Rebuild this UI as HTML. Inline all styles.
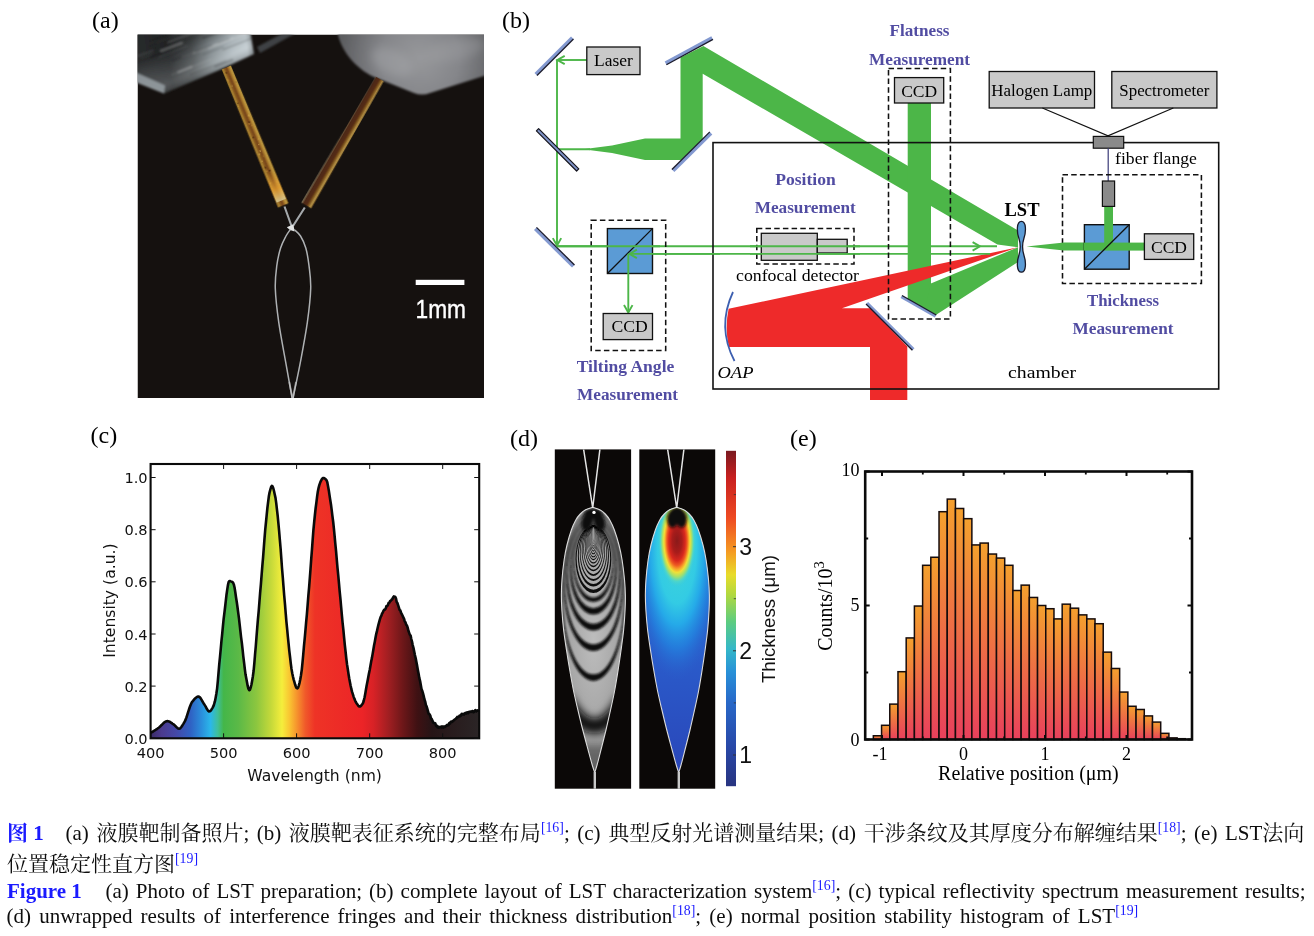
<!DOCTYPE html>
<html lang="zh"><head><meta charset="utf-8"><title>Figure 1</title>
<style>
html,body{margin:0;padding:0;background:#fff;}
body{width:1314px;height:936px;overflow:hidden;position:relative;}
svg{position:absolute;left:0;top:0;display:block;}
.ser{font-family:"Liberation Serif","Noto Serif CJK SC",serif;}
.sans{font-family:"Liberation Sans","Noto Sans CJK SC",sans-serif;}
.dv{font-family:"DejaVu Sans","Liberation Sans",sans-serif;}
.pb{font-family:"Liberation Serif",serif;font-weight:bold;fill:#514ca2;}
</style></head><body>
<svg width="1314" height="936" viewBox="0 0 1314 936">
<!-- part_a -->
<text x="92" y="28" font-size="24" class="ser">(a)</text>
<defs>
<clipPath id="clipA"><rect x="137.5" y="34.5" width="346.5" height="363.5"/></clipPath>
<clipPath id="clipBlkL"><polygon points="130.0,30.0 250.0,30.0 254.0,54.0 217.0,71.0 164.0,93.5 130.0,80.0"/></clipPath>
<linearGradient id="gBlkL" gradientUnits="userSpaceOnUse" x1="140" y1="60" x2="255" y2="45">
<stop offset="0" stop-color="#4a4d4f"/><stop offset="0.25" stop-color="#3c3f41"/><stop offset="0.45" stop-color="#5b6062"/><stop offset="0.62" stop-color="#8e979b"/><stop offset="0.8" stop-color="#b4bec3"/><stop offset="0.93" stop-color="#c2ccd1"/><stop offset="1" stop-color="#7f878b"/></linearGradient>
<linearGradient id="gBlkL2" gradientUnits="userSpaceOnUse" x1="200" y1="34" x2="217" y2="72">
<stop offset="0" stop-color="#000" stop-opacity="0.45"/><stop offset="0.35" stop-color="#000" stop-opacity="0.1"/><stop offset="0.75" stop-color="#fff" stop-opacity="0.1"/><stop offset="1" stop-color="#000" stop-opacity="0.25"/></linearGradient>
<radialGradient id="gBlkR" gradientUnits="userSpaceOnUse" cx="420" cy="58" r="80">
<stop offset="0" stop-color="#97989b"/><stop offset="0.5" stop-color="#85868a"/><stop offset="1" stop-color="#5c5d60"/></radialGradient>
<linearGradient id="gNdL" gradientUnits="objectBoundingBox" x1="0" y1="0" x2="1" y2="0">
<stop offset="0" stop-color="#5a3a12"/><stop offset="0.16" stop-color="#b08a34"/><stop offset="0.32" stop-color="#8a5a1e"/><stop offset="0.5" stop-color="#74421a"/><stop offset="0.68" stop-color="#a8782a"/><stop offset="0.85" stop-color="#c4a044"/><stop offset="1" stop-color="#54360e"/></linearGradient>
<linearGradient id="gNdR" gradientUnits="objectBoundingBox" x1="0" y1="0" x2="1" y2="0">
<stop offset="0" stop-color="#8f8468"/><stop offset="0.18" stop-color="#4c2812"/><stop offset="0.5" stop-color="#552c12"/><stop offset="0.7" stop-color="#8a6226"/><stop offset="0.86" stop-color="#bc9a4c"/><stop offset="1" stop-color="#5a3c14"/></linearGradient>
<linearGradient id="gGlow" gradientUnits="objectBoundingBox" x1="0" y1="0" x2="0" y2="1">
<stop offset="0" stop-color="#e09a30" stop-opacity="0"/><stop offset="0.6" stop-color="#e8a030" stop-opacity="0.75"/><stop offset="1" stop-color="#d8c890" stop-opacity="0.9"/></linearGradient>
<filter id="blur1"><feGaussianBlur stdDeviation="0.8"/></filter>
<filter id="blur2" x="-0.5" y="-0.5" width="2" height="2"><feGaussianBlur stdDeviation="4"/></filter>
<filter id="blur05"><feGaussianBlur stdDeviation="0.5"/></filter>
</defs>
<g clip-path="url(#clipA)">
<rect x="137.5" y="34.5" width="346.5" height="363.5" fill="#15110f"/>
<g filter="url(#blur1)">
<polygon points="130.0,30.0 250.0,30.0 254.0,54.0 217.0,71.0 164.0,93.5 130.0,80.0" fill="url(#gBlkL)"/>
<polygon points="130.0,30.0 250.0,30.0 254.0,54.0 217.0,71.0 164.0,93.5 130.0,80.0" fill="url(#gBlkL2)"/>
<g clip-path="url(#clipBlkL)">
<line x1="167.4" y1="42.6" x2="198.5" y2="30.6" stroke="#fff" stroke-opacity="0.19" stroke-width="1.3"/>
<line x1="140.8" y1="58.3" x2="153.1" y2="53.6" stroke="#fff" stroke-opacity="0.09" stroke-width="0.9"/>
<line x1="177.5" y1="72.4" x2="192.4" y2="66.6" stroke="#fff" stroke-opacity="0.21" stroke-width="2.1"/>
<line x1="192.7" y1="53.5" x2="233.8" y2="37.5" stroke="#fff" stroke-opacity="0.25" stroke-width="1.2"/>
<line x1="149.4" y1="41.2" x2="170.1" y2="33.2" stroke="#000" stroke-opacity="0.12" stroke-width="1.6"/>
<line x1="198.9" y1="52.4" x2="226.9" y2="41.6" stroke="#fff" stroke-opacity="0.09" stroke-width="1.1"/>
<line x1="203.0" y1="54.8" x2="223.8" y2="46.8" stroke="#000" stroke-opacity="0.17" stroke-width="1.2"/>
<line x1="214.4" y1="66.8" x2="233.1" y2="59.5" stroke="#000" stroke-opacity="0.19" stroke-width="2.0"/>
<line x1="207.9" y1="48.7" x2="249.2" y2="32.7" stroke="#fff" stroke-opacity="0.16" stroke-width="1.9"/>
<line x1="150.2" y1="57.5" x2="162.6" y2="52.7" stroke="#000" stroke-opacity="0.23" stroke-width="1.6"/>
<line x1="222.5" y1="49.8" x2="255.0" y2="37.2" stroke="#000" stroke-opacity="0.20" stroke-width="1.4"/>
<line x1="219.0" y1="77.6" x2="244.7" y2="67.6" stroke="#000" stroke-opacity="0.09" stroke-width="1.8"/>
<line x1="199.7" y1="79.7" x2="236.1" y2="65.6" stroke="#fff" stroke-opacity="0.16" stroke-width="1.7"/>
<line x1="137.3" y1="56.3" x2="153.6" y2="50.0" stroke="#fff" stroke-opacity="0.09" stroke-width="1.9"/>
<line x1="147.9" y1="46.9" x2="171.1" y2="37.9" stroke="#000" stroke-opacity="0.10" stroke-width="1.4"/>
<line x1="189.9" y1="74.9" x2="226.2" y2="60.8" stroke="#000" stroke-opacity="0.14" stroke-width="1.4"/>
<line x1="170.9" y1="74.9" x2="211.4" y2="59.2" stroke="#fff" stroke-opacity="0.12" stroke-width="1.1"/>
<line x1="158.3" y1="57.3" x2="187.6" y2="46.0" stroke="#fff" stroke-opacity="0.08" stroke-width="1.4"/>
<line x1="171.9" y1="60.9" x2="212.3" y2="45.3" stroke="#000" stroke-opacity="0.18" stroke-width="1.7"/>
<line x1="202.6" y1="38.4" x2="241.4" y2="23.4" stroke="#000" stroke-opacity="0.25" stroke-width="1.9"/>
<line x1="174.2" y1="53.6" x2="188.6" y2="48.0" stroke="#000" stroke-opacity="0.09" stroke-width="0.9"/>
<line x1="155.9" y1="43.1" x2="177.5" y2="34.8" stroke="#fff" stroke-opacity="0.08" stroke-width="1.0"/>
<line x1="145.1" y1="52.0" x2="157.1" y2="47.4" stroke="#000" stroke-opacity="0.20" stroke-width="1.0"/>
<line x1="160.2" y1="51.3" x2="182.6" y2="42.6" stroke="#fff" stroke-opacity="0.25" stroke-width="2.2"/>
<line x1="181.6" y1="57.3" x2="195.4" y2="51.9" stroke="#fff" stroke-opacity="0.15" stroke-width="1.2"/>
<line x1="217.9" y1="43.1" x2="229.8" y2="38.5" stroke="#000" stroke-opacity="0.19" stroke-width="1.0"/>
</g>
<polygon points="130.0,70.0 165.0,85.5 164.0,93.5 130.0,80.0" fill="#98a0a4" opacity="0.85"/>
<polygon points="257.0,47.0 283.0,33.0 296.0,33.0 260.0,53.0" fill="#4e5355" opacity="0.75"/>
<path d="M337 30 C340 50 355 68 374 77 L414 93 Q422 96 430 93 L490 74 L490 30Z" fill="url(#gBlkR)"/>
<ellipse cx="392" cy="62" rx="22" ry="12" fill="#a9aaad" opacity="0.4" transform="rotate(25 392 62)" filter="url(#blur2)"/>
<ellipse cx="455" cy="50" rx="30" ry="10" fill="#a2a3a6" opacity="0.35" transform="rotate(-12 455 50)" filter="url(#blur2)"/>
</g>
<g transform="translate(226.3 67.5) rotate(-22.44)" filter="url(#blur05)"><polygon points="-5.0,0 5.0,0 6.0,149.3 -6.0,149.3" fill="url(#gNdL)"/><circle cx="0.4" cy="59.3" r="1.1" fill="#3a1a08" opacity="0.58"/><circle cx="-2.2" cy="107.6" r="1.0" fill="#3a1a08" opacity="0.65"/><circle cx="-2.8" cy="100.2" r="0.7" fill="#e8c060" opacity="0.62"/><circle cx="0.9" cy="111.8" r="0.9" fill="#3a1a08" opacity="0.79"/><circle cx="0.8" cy="83.5" r="0.6" fill="#e8c060" opacity="0.73"/><circle cx="-3.3" cy="12.6" r="1.0" fill="#d8a040" opacity="0.41"/><circle cx="-0.4" cy="60.7" r="1.0" fill="#d8a040" opacity="0.49"/><circle cx="-3.5" cy="40.3" r="0.6" fill="#d8a040" opacity="0.51"/><circle cx="3.5" cy="124.7" r="1.0" fill="#d8a040" opacity="0.50"/><circle cx="0.1" cy="96.0" r="0.5" fill="#d8a040" opacity="0.71"/><circle cx="2.4" cy="53.0" r="0.7" fill="#e8c060" opacity="0.74"/><circle cx="-2.0" cy="5.1" r="1.0" fill="#3a1a08" opacity="0.55"/><circle cx="-0.6" cy="90.1" r="0.8" fill="#e8c060" opacity="0.71"/><circle cx="-2.9" cy="37.4" r="0.7" fill="#3a1a08" opacity="0.70"/><circle cx="-1.8" cy="19.2" r="0.6" fill="#e8c060" opacity="0.59"/><circle cx="1.3" cy="63.4" r="0.6" fill="#d8a040" opacity="0.48"/><circle cx="-2.6" cy="92.8" r="0.9" fill="#e8c060" opacity="0.56"/><circle cx="-3.5" cy="123.8" r="1.0" fill="#d8a040" opacity="0.52"/><circle cx="-2.0" cy="111.2" r="0.7" fill="#d8a040" opacity="0.66"/><circle cx="3.4" cy="17.0" r="0.6" fill="#3a1a08" opacity="0.40"/><circle cx="2.3" cy="78.2" r="0.7" fill="#e8c060" opacity="0.44"/><circle cx="-1.8" cy="74.9" r="0.9" fill="#3a1a08" opacity="0.65"/><rect x="-5" y="112" width="10" height="32" fill="url(#gGlow)"/></g>
<g transform="translate(379.7 79.0) rotate(30.06)" filter="url(#blur05)"><polygon points="-4.5,0 4.5,0 5.8,146.2 -5.8,146.2" fill="url(#gNdR)"/></g>
<path d="M284.5 206.5 L291.5 226 M304.8 207.5 L293 226" stroke="#a4a8ab" stroke-width="2.1" fill="none"/>
<path d="M286.8 227.3 L293.4 224.2 L294.6 231.5 L290 230Z" fill="#e2e4e4"/>
<path d="M290.30 229.50 C289.58 230.58 287.62 232.92 286.00 236.00 C284.38 239.08 282.13 243.05 280.60 248.00 C279.07 252.95 277.68 258.95 276.80 265.70 C275.92 272.45 274.97 279.00 275.30 288.50 C275.63 298.00 277.08 310.52 278.80 322.70 C280.52 334.88 283.52 349.80 285.60 361.60 C287.68 373.40 290.17 387.10 291.30 393.50 C292.43 399.90 292.22 398.92 292.40 400.00" stroke="#aeb1b3" stroke-width="1.5" fill="none"/>
<path d="M294.20 229.50 C295.25 230.58 298.57 232.92 300.50 236.00 C302.43 239.08 304.38 243.05 305.80 248.00 C307.22 252.95 308.18 258.95 309.00 265.70 C309.82 272.45 310.98 279.00 310.70 288.50 C310.42 298.00 309.00 310.52 307.30 322.70 C305.60 334.88 302.72 349.80 300.50 361.60 C298.28 373.40 295.27 387.10 294.00 393.50 C292.73 399.90 293.08 398.92 292.90 400.00" stroke="#aeb1b3" stroke-width="1.5" fill="none"/>
<path d="M289.3 382 L292.6 399 L296 382" stroke="#c8c8c8" stroke-width="1.8" fill="none" opacity="0.6"/>
<rect x="415.7" y="279.8" width="48.7" height="5.2" fill="#fff"/>
<text x="415.5" y="318" font-size="25" fill="#fff" stroke="#fff" stroke-width="0.35" font-family="'Liberation Sans',sans-serif" textLength="50.5" lengthAdjust="spacingAndGlyphs">1mm</text>
</g>
<!-- part_b -->
<text x="502.0" y="28.0" font-size="24" class="ser" text-anchor="start" >(b)</text>
<polygon points="583.0,149.3 612.0,145.6 645.0,138.6 680.5,138.6 680.5,57.5 703.4,46.0 1018.0,230.5 1018.0,247.3 997.4,244.6 702.7,73.7 702.7,139.0 681.2,160.0 645.0,160.0 612.0,153.0" fill="#4cb648"/>
<line x1="556.5" y1="149.3" x2="590" y2="149.3" stroke="#4cb648" stroke-width="1.9"/>
<polygon points="907.7,103.0 931.0,103.0 931.0,312.3 907.7,299.0" fill="#4cb648"/>
<polygon points="930.8,283.4 1000.0,254.8 1018.0,247.3 1018.0,262.0 936.2,314.8 925.0,309.0" fill="#4cb648"/>
<path d="M728.6 308.8 L1018 247.2 L842 308.2 L870.5 308.2 L907.3 346.6 L907.3 400 L870 400 L870 347 L728.8 347 Q724.6 328 728.6 308.8Z" fill="#ee2a2a"/>
<line x1="556.5" y1="60" x2="586.8" y2="60" stroke="#4cb648" stroke-width="1.9"/>
<polyline points="564.7,55.8 557.3,60.0 564.7,64.2" fill="none" stroke="#4cb648" stroke-width="1.9"/>
<line x1="557" y1="60" x2="557" y2="245" stroke="#4cb648" stroke-width="1.9"/>
<polyline points="552.8,238.1 557.0,245.5 561.2,238.1" fill="none" stroke="#4cb648" stroke-width="1.9"/>
<line x1="556.5" y1="246.3" x2="997" y2="246.3" stroke="#4cb648" stroke-width="1.9"/>
<polyline points="972.6,250.6 980.0,246.3 972.6,242.1" fill="none" stroke="#4cb648" stroke-width="1.9"/>
<line x1="632" y1="253.9" x2="990" y2="253.9" stroke="#4cb648" stroke-width="1.9"/>
<rect x="713" y="142.6" width="505.7" height="246.4" fill="none" stroke="#111" stroke-width="1.6"/>
<polygon points="537.0,75.5 573.5,39.0 571.0,36.5 534.5,73.0" fill="#8399d0"/><line x1="537.0" y1="75.5" x2="573.5" y2="39.0" stroke="#1b1b2b" stroke-width="1.3"/>
<polygon points="538.6,128.6 578.8,168.8 576.6,171.0 536.4,130.8" fill="#7f93c6" stroke="#14141e" stroke-width="1.2" stroke-linejoin="round"/>
<polygon points="536.5,227.4 574.5,265.0 572.0,267.6 534.0,230.0" fill="#8399d0"/><line x1="536.5" y1="227.4" x2="574.5" y2="265.0" stroke="#1b1b2b" stroke-width="1.3"/>
<polygon points="666.4,64.8 713.0,39.4 711.3,36.2 664.7,61.6" fill="#8399d0"/><line x1="666.4" y1="64.8" x2="713.0" y2="39.4" stroke="#1b1b2b" stroke-width="1.3"/>
<polygon points="671.9,169.5 709.8,131.9 712.3,134.5 674.4,172.1" fill="#8399d0"/><line x1="671.9" y1="169.5" x2="709.8" y2="131.9" stroke="#1b1b2b" stroke-width="1.3"/>
<polygon points="866.0,304.0 912.4,350.3 914.5,348.2 868.1,301.9" fill="#8399d0"/><line x1="866.0" y1="304.0" x2="912.4" y2="350.3" stroke="#1b1b2b" stroke-width="1.3"/>
<polygon points="902.0,295.5 936.3,315.0 934.8,317.6 900.5,298.1" fill="#8399d0"/><line x1="902.0" y1="295.5" x2="936.3" y2="315.0" stroke="#1b1b2b" stroke-width="1.3"/>
<rect x="586.8" y="47.0" width="53.2" height="27.6" fill="#c9c9c9" stroke="#111" stroke-width="1.3"/>
<text x="613.4" y="66.4" font-size="17.5" class="ser" text-anchor="middle" textLength="38.8" lengthAdjust="spacingAndGlyphs" >Laser</text>
<rect x="591.2" y="220.2" width="74.5" height="130.2" fill="none" stroke="#111" stroke-width="1.55" stroke-dasharray="5.5 3.2"/>
<rect x="607.4" y="228.6" width="45.1" height="44.9" fill="#5b9bd5" stroke="#111" stroke-width="1.4"/>
<line x1="607.4" y1="273.5" x2="652.5" y2="228.6" stroke="#111" stroke-width="1.3"/>
<line x1="556.5" y1="246.3" x2="660" y2="246.3" stroke="#4cb648" stroke-width="1.9"/>
<line x1="629" y1="253.9" x2="720" y2="253.9" stroke="#4cb648" stroke-width="1.9"/>
<polyline points="636.9,249.7 629.5,253.9 636.9,258.1" fill="none" stroke="#4cb648" stroke-width="1.9"/>
<line x1="628.3" y1="253.9" x2="628.3" y2="311.5" stroke="#4cb648" stroke-width="1.9"/>
<polyline points="624.0,305.1 628.3,312.5 632.5,305.1" fill="none" stroke="#4cb648" stroke-width="1.9"/>
<rect x="603.2" y="313.5" width="49.3" height="26.1" fill="#c9c9c9" stroke="#111" stroke-width="1.3"/>
<text x="629.6" y="332.3" font-size="17.5" class="ser" text-anchor="middle" textLength="36.3" lengthAdjust="spacingAndGlyphs" >CCD</text>
<text x="625.5" y="372.0" font-size="17.2" class="pb" text-anchor="middle" textLength="97.6" lengthAdjust="spacingAndGlyphs" >Tilting Angle</text>
<text x="627.5" y="399.7" font-size="17.2" class="pb" text-anchor="middle" textLength="101.0" lengthAdjust="spacingAndGlyphs" >Measurement</text>
<text x="805.5" y="184.8" font-size="17.2" class="pb" text-anchor="middle" textLength="60.5" lengthAdjust="spacingAndGlyphs" >Position</text>
<text x="805.2" y="213.0" font-size="17.2" class="pb" text-anchor="middle" textLength="101.0" lengthAdjust="spacingAndGlyphs" >Measurement</text>
<rect x="756.8" y="228.5" width="97.2" height="35.5" fill="none" stroke="#111" stroke-width="1.55" stroke-dasharray="5.5 3.2"/>
<rect x="761.3" y="233.3" width="56.0" height="27.0" fill="#c9c9c9" stroke="#111" stroke-width="1.3"/>
<rect x="817.3" y="239.3" width="29.9" height="13.7" fill="#c9c9c9" stroke="#111" stroke-width="1.3"/>
<line x1="750" y1="246.3" x2="860" y2="246.3" stroke="#4cb648" stroke-width="1.9"/>
<line x1="750" y1="253.9" x2="860" y2="253.9" stroke="#4cb648" stroke-width="1.9"/>
<text x="797.5" y="280.6" font-size="17.5" class="ser" text-anchor="middle" textLength="123.0" lengthAdjust="spacingAndGlyphs" >confocal detector</text>
<path d="M733 292 Q716.6 327 734.5 361" fill="none" stroke="#3d5fb0" stroke-width="1.8"/>
<text x="717.5" y="378" font-size="17.5" class="ser" font-style="italic" textLength="36" lengthAdjust="spacingAndGlyphs">OAP</text>
<text x="919.5" y="36.0" font-size="17.2" class="pb" text-anchor="middle" textLength="60.0" lengthAdjust="spacingAndGlyphs" >Flatness</text>
<text x="919.5" y="64.5" font-size="17.2" class="pb" text-anchor="middle" textLength="101.0" lengthAdjust="spacingAndGlyphs" >Measurement</text>
<rect x="888.5" y="68.5" width="61.9" height="250.4" fill="none" stroke="#111" stroke-width="1.55" stroke-dasharray="5.5 3.2"/>
<rect x="894.5" y="77.6" width="49.2" height="25.4" fill="#c9c9c9" stroke="#111" stroke-width="1.3"/>
<text x="919.2" y="96.5" font-size="17.5" class="ser" text-anchor="middle" textLength="36.0" lengthAdjust="spacingAndGlyphs" >CCD</text>
<text x="1022.0" y="215.5" font-size="18.5" class="ser" text-anchor="middle" textLength="35.0" lengthAdjust="spacingAndGlyphs" font-weight="bold">LST</text>
<path d="M1021.4 221.3 C1026.5 221.3 1026 232 1024 238 C1022.2 243.5 1022.2 250 1024 255.5 C1026 261.5 1026.5 272.2 1021.4 272.2 C1016.3 272.2 1016.8 261.5 1018.8 255.5 C1020.6 250 1020.6 243.5 1018.8 238 C1016.8 232 1016.3 221.3 1021.4 221.3Z" fill="#5b9bd5" stroke="#1a1a2a" stroke-width="1.3"/>
<rect x="989.2" y="71.5" width="105.3" height="36.5" fill="#c9c9c9" stroke="#111" stroke-width="1.3"/>
<text x="1041.8" y="95.8" font-size="17.5" class="ser" text-anchor="middle" textLength="101.0" lengthAdjust="spacingAndGlyphs" >Halogen Lamp</text>
<rect x="1111.8" y="71.5" width="105.1" height="36.5" fill="#c9c9c9" stroke="#111" stroke-width="1.3"/>
<text x="1164.3" y="95.8" font-size="17.5" class="ser" text-anchor="middle" textLength="90.0" lengthAdjust="spacingAndGlyphs" >Spectrometer</text>
<path d="M1042.4 108 L1108 135.8 L1173.3 108" fill="none" stroke="#111" stroke-width="1.2"/>
<rect x="1093.3" y="136.4" width="30.4" height="11.8" fill="#8a8a8a" stroke="#111" stroke-width="1.2"/>
<text x="1156.0" y="164.4" font-size="17.5" class="ser" text-anchor="middle" textLength="81.8" lengthAdjust="spacingAndGlyphs" >fiber flange</text>
<line x1="1108.2" y1="148.2" x2="1108.2" y2="181" stroke="#3a3a78" stroke-width="1.2"/>
<rect x="1062.5" y="174.8" width="138.9" height="108.7" fill="none" stroke="#111" stroke-width="1.55" stroke-dasharray="5.5 3.2"/>
<polygon points="1026.5,246.4 1064.0,242.6 1084.4,242.6 1084.4,250.6 1064.0,250.6" fill="#4cb648"/>
<rect x="1084.4" y="224.7" width="44.8" height="44.5" fill="#5b9bd5" stroke="#111" stroke-width="1.4"/>
<rect x="1084" y="242.6" width="60.4" height="8" fill="#4cb648"/>
<rect x="1104.2" y="206" width="8.8" height="40" fill="#4cb648"/>
<line x1="1084.4" y1="269.2" x2="1129.2" y2="224.7" stroke="#111" stroke-width="1.3"/>
<rect x="1102.4" y="181.0" width="12.2" height="25.4" fill="#8a8a8a" stroke="#111" stroke-width="1.2"/>
<rect x="1144.4" y="233.8" width="49.3" height="25.6" fill="#c9c9c9" stroke="#111" stroke-width="1.3"/>
<text x="1169.0" y="252.8" font-size="17.5" class="ser" text-anchor="middle" textLength="36.0" lengthAdjust="spacingAndGlyphs" >CCD</text>
<text x="1123.0" y="306.0" font-size="17.2" class="pb" text-anchor="middle" textLength="72.0" lengthAdjust="spacingAndGlyphs" >Thickness</text>
<text x="1123.0" y="334.0" font-size="17.2" class="pb" text-anchor="middle" textLength="101.0" lengthAdjust="spacingAndGlyphs" >Measurement</text>
<text x="1042.0" y="378.0" font-size="17.5" class="ser" text-anchor="middle" textLength="68.0" lengthAdjust="spacingAndGlyphs" >chamber</text>
<!-- part_c -->
<text x="90.5" y="442.5" font-size="24" class="ser">(c)</text>
<defs><linearGradient id="gSpec" gradientUnits="userSpaceOnUse" x1="150.6" y1="0" x2="479.2" y2="0">
<stop offset="0.0000" stop-color="#3a2c66"/>
<stop offset="0.0333" stop-color="#4b3a8e"/>
<stop offset="0.0778" stop-color="#4448a8"/>
<stop offset="0.1222" stop-color="#2f62c4"/>
<stop offset="0.1556" stop-color="#2a8fdc"/>
<stop offset="0.1822" stop-color="#2bb7ea"/>
<stop offset="0.2044" stop-color="#3fbf9a"/>
<stop offset="0.2222" stop-color="#44b649"/>
<stop offset="0.2667" stop-color="#5bb947"/>
<stop offset="0.3222" stop-color="#8cc63f"/>
<stop offset="0.3667" stop-color="#c5d93a"/>
<stop offset="0.4000" stop-color="#f5ee3c"/>
<stop offset="0.4222" stop-color="#f9c632"/>
<stop offset="0.4444" stop-color="#f6952d"/>
<stop offset="0.4711" stop-color="#f0592a"/>
<stop offset="0.5000" stop-color="#ee3326"/>
<stop offset="0.6444" stop-color="#ec2427"/>
<stop offset="0.6778" stop-color="#d82226"/>
<stop offset="0.7222" stop-color="#a31f22"/>
<stop offset="0.7667" stop-color="#6e1719"/>
<stop offset="0.8111" stop-color="#3f1113"/>
<stop offset="0.8556" stop-color="#261416"/>
<stop offset="1.0000" stop-color="#2b2526"/>
</linearGradient><clipPath id="clipC"><rect x="150.6" y="464.0" width="328.6" height="274.3"/></clipPath></defs>
<path d="M150.6 738.3 L150.6 732.8 L151.3 732.4 L152.1 732.0 L152.8 731.6 L153.5 731.1 L154.3 730.7 L155.0 730.2 L155.7 729.8 L156.4 729.3 L157.2 728.8 L157.9 728.3 L158.6 727.8 L159.4 727.2 L160.1 726.5 L160.8 725.8 L161.6 725.1 L162.3 724.3 L163.0 723.6 L163.7 722.9 L164.5 722.3 L165.2 721.8 L165.9 721.4 L166.7 721.2 L167.4 721.1 L168.1 721.2 L168.9 721.4 L169.6 721.7 L170.3 722.1 L171.0 722.6 L171.8 723.1 L172.5 723.7 L173.2 724.2 L174.0 724.7 L174.7 725.3 L175.4 726.0 L176.2 726.8 L176.9 727.5 L177.6 728.1 L178.3 728.5 L179.1 728.7 L179.8 728.5 L180.5 727.9 L181.3 727.1 L182.0 726.1 L182.7 724.9 L183.5 723.6 L184.2 722.4 L184.9 721.1 L185.7 719.4 L186.4 717.5 L187.1 715.3 L187.8 713.1 L188.6 710.7 L189.3 708.5 L190.0 706.4 L190.8 704.5 L191.5 702.9 L192.2 701.8 L193.0 700.9 L193.7 700.0 L194.4 699.1 L195.1 698.4 L195.9 697.7 L196.6 697.2 L197.3 696.8 L198.1 696.6 L198.8 696.6 L199.5 697.1 L200.3 697.8 L201.0 698.9 L201.7 700.0 L202.4 701.3 L203.2 702.6 L203.9 703.8 L204.6 704.9 L205.4 706.1 L206.1 707.4 L206.8 708.8 L207.6 710.0 L208.3 710.9 L209.0 711.4 L209.7 711.3 L210.5 710.8 L211.2 710.0 L211.9 708.9 L212.7 707.6 L213.4 706.2 L214.1 704.2 L214.9 701.4 L215.6 697.9 L216.3 694.0 L217.1 688.6 L217.8 681.4 L218.5 673.2 L219.2 664.8 L220.0 656.9 L220.7 649.4 L221.4 641.7 L222.2 633.9 L222.9 626.4 L223.6 619.3 L224.4 612.8 L225.1 607.0 L225.8 600.8 L226.5 594.7 L227.3 589.1 L228.0 584.7 L228.7 581.8 L229.5 581.0 L230.2 581.1 L230.9 581.4 L231.7 581.7 L232.4 582.1 L233.1 582.7 L233.8 584.4 L234.6 587.8 L235.3 592.2 L236.0 597.2 L236.8 602.3 L237.5 607.2 L238.2 612.6 L239.0 618.6 L239.7 624.8 L240.4 631.1 L241.1 637.3 L241.9 643.3 L242.6 649.7 L243.3 656.3 L244.1 662.8 L244.8 668.9 L245.5 674.3 L246.3 678.6 L247.0 682.3 L247.7 685.9 L248.4 688.7 L249.2 690.2 L249.9 689.9 L250.6 687.9 L251.4 684.7 L252.1 680.9 L252.8 676.8 L253.6 671.0 L254.3 663.6 L255.0 655.0 L255.8 646.0 L256.5 636.8 L257.2 628.2 L257.9 619.7 L258.7 611.0 L259.4 602.1 L260.1 593.1 L260.9 584.1 L261.6 575.2 L262.3 566.3 L263.1 557.1 L263.8 547.8 L264.5 538.7 L265.2 530.0 L266.0 522.0 L266.7 514.9 L267.4 507.9 L268.2 501.3 L268.9 496.0 L269.6 492.3 L270.4 489.4 L271.1 487.0 L271.8 485.9 L272.5 486.4 L273.3 488.2 L274.0 491.0 L274.7 494.3 L275.5 497.9 L276.2 502.9 L276.9 509.1 L277.7 516.0 L278.4 523.4 L279.1 530.9 L279.8 539.3 L280.6 548.5 L281.3 558.2 L282.0 568.0 L282.8 577.6 L283.5 586.6 L284.2 595.5 L285.0 604.4 L285.7 613.1 L286.4 621.6 L287.2 629.6 L287.9 637.0 L288.6 643.9 L289.3 650.8 L290.1 657.5 L290.8 663.6 L291.5 669.0 L292.3 673.4 L293.0 676.7 L293.7 679.6 L294.5 682.4 L295.2 684.8 L295.9 686.8 L296.6 688.0 L297.4 688.5 L298.1 687.7 L298.8 685.6 L299.6 682.6 L300.3 679.3 L301.0 675.2 L301.8 669.6 L302.5 662.7 L303.2 655.0 L303.9 646.9 L304.7 638.7 L305.4 630.8 L306.1 622.7 L306.9 614.2 L307.6 605.4 L308.3 596.4 L309.1 587.4 L309.8 578.4 L310.5 569.2 L311.2 559.3 L312.0 549.2 L312.7 539.3 L313.4 530.1 L314.2 521.9 L314.9 515.0 L315.6 508.5 L316.4 502.3 L317.1 496.6 L317.8 491.7 L318.6 487.8 L319.3 485.1 L320.0 483.1 L320.7 481.3 L321.5 479.8 L322.2 478.7 L322.9 478.1 L323.7 478.1 L324.4 478.3 L325.1 478.8 L325.9 479.5 L326.6 480.4 L327.3 482.3 L328.0 485.9 L328.8 490.4 L329.5 495.1 L330.2 499.7 L331.0 504.7 L331.7 510.1 L332.4 515.9 L333.2 522.0 L333.9 528.6 L334.6 535.8 L335.3 543.6 L336.1 551.6 L336.8 559.8 L337.5 567.9 L338.3 575.8 L339.0 583.7 L339.7 591.7 L340.5 599.7 L341.2 607.6 L341.9 615.3 L342.6 622.8 L343.4 630.1 L344.1 637.6 L344.8 644.9 L345.6 652.0 L346.3 658.5 L347.0 664.2 L347.8 669.3 L348.5 674.0 L349.2 678.3 L350.0 682.4 L350.7 686.0 L351.4 689.2 L352.1 691.9 L352.9 694.3 L353.6 696.6 L354.3 698.6 L355.1 700.5 L355.8 702.0 L356.5 703.2 L357.3 704.3 L358.0 705.3 L358.7 706.1 L359.4 706.5 L360.2 706.4 L360.9 705.9 L361.6 705.1 L362.4 704.0 L363.1 702.8 L363.8 700.5 L364.6 697.3 L365.3 693.5 L366.0 689.3 L366.7 685.2 L367.5 681.3 L368.2 677.6 L368.9 673.8 L369.7 669.9 L370.4 666.0 L371.1 662.0 L371.9 658.1 L372.6 654.1 L373.3 650.0 L374.0 645.8 L374.8 641.7 L375.5 637.8 L376.2 634.1 L377.0 630.9 L377.7 627.8 L378.4 624.8 L379.2 621.9 L379.9 619.4 L380.6 617.1 L381.4 615.7 L382.1 613.5 L382.8 612.5 L383.5 610.8 L384.3 609.6 L385.0 609.6 L385.7 608.6 L386.5 606.0 L387.2 606.0 L387.9 605.1 L388.7 602.7 L389.4 602.7 L390.1 601.1 L390.8 600.9 L391.6 599.6 L392.3 599.4 L393.0 597.5 L393.8 596.4 L394.5 596.7 L395.2 596.7 L396.0 598.5 L396.7 602.0 L397.4 603.0 L398.1 605.2 L398.9 607.6 L399.6 609.9 L400.3 610.3 L401.1 612.8 L401.8 614.1 L402.5 615.5 L403.3 617.4 L404.0 618.7 L404.7 621.2 L405.4 622.2 L406.2 624.6 L406.9 625.5 L407.6 627.4 L408.4 630.7 L409.1 632.6 L409.8 634.6 L410.6 635.5 L411.3 639.0 L412.0 641.5 L412.7 645.1 L413.5 648.0 L414.2 651.6 L414.9 655.1 L415.7 658.2 L416.4 662.1 L417.1 665.6 L417.9 670.2 L418.6 673.8 L419.3 677.9 L420.1 681.1 L420.8 685.0 L421.5 689.0 L422.2 690.7 L423.0 693.3 L423.7 696.1 L424.4 699.3 L425.2 701.6 L425.9 705.0 L426.6 706.3 L427.4 709.1 L428.1 711.7 L428.8 714.1 L429.5 714.3 L430.3 715.6 L431.0 718.8 L431.7 718.9 L432.5 720.8 L433.2 722.4 L433.9 723.0 L434.7 723.0 L435.4 723.6 L436.1 726.0 L436.8 725.7 L437.6 727.3 L438.3 726.6 L439.0 727.7 L439.8 726.9 L440.5 726.7 L441.2 727.5 L442.0 726.4 L442.7 727.4 L443.4 727.6 L444.1 726.3 L444.9 727.0 L445.6 726.4 L446.3 725.7 L447.1 724.9 L447.8 725.4 L448.5 725.1 L449.3 723.1 L450.0 723.6 L450.7 721.9 L451.5 721.5 L452.2 721.9 L452.9 721.2 L453.6 720.5 L454.4 719.8 L455.1 719.3 L455.8 718.8 L456.6 718.1 L457.3 716.9 L458.0 717.1 L458.8 716.7 L459.5 715.7 L460.2 716.1 L460.9 715.6 L461.7 713.9 L462.4 714.4 L463.1 713.9 L463.9 714.6 L464.6 713.5 L465.3 712.9 L466.1 713.7 L466.8 712.4 L467.5 712.2 L468.2 713.1 L469.0 711.9 L469.7 712.0 L470.4 711.5 L471.2 711.9 L471.9 711.2 L472.6 711.0 L473.4 712.2 L474.1 712.0 L474.8 710.7 L475.5 710.1 L476.3 711.3 L477.0 710.8 L477.7 710.4 L478.5 710.8 L479.2 710.6 L479.2 738.3 Z" fill="url(#gSpec)" clip-path="url(#clipC)"/>
<path d="M150.6 732.8 L151.3 732.4 L152.1 732.0 L152.8 731.6 L153.5 731.1 L154.3 730.7 L155.0 730.2 L155.7 729.8 L156.4 729.3 L157.2 728.8 L157.9 728.3 L158.6 727.8 L159.4 727.2 L160.1 726.5 L160.8 725.8 L161.6 725.1 L162.3 724.3 L163.0 723.6 L163.7 722.9 L164.5 722.3 L165.2 721.8 L165.9 721.4 L166.7 721.2 L167.4 721.1 L168.1 721.2 L168.9 721.4 L169.6 721.7 L170.3 722.1 L171.0 722.6 L171.8 723.1 L172.5 723.7 L173.2 724.2 L174.0 724.7 L174.7 725.3 L175.4 726.0 L176.2 726.8 L176.9 727.5 L177.6 728.1 L178.3 728.5 L179.1 728.7 L179.8 728.5 L180.5 727.9 L181.3 727.1 L182.0 726.1 L182.7 724.9 L183.5 723.6 L184.2 722.4 L184.9 721.1 L185.7 719.4 L186.4 717.5 L187.1 715.3 L187.8 713.1 L188.6 710.7 L189.3 708.5 L190.0 706.4 L190.8 704.5 L191.5 702.9 L192.2 701.8 L193.0 700.9 L193.7 700.0 L194.4 699.1 L195.1 698.4 L195.9 697.7 L196.6 697.2 L197.3 696.8 L198.1 696.6 L198.8 696.6 L199.5 697.1 L200.3 697.8 L201.0 698.9 L201.7 700.0 L202.4 701.3 L203.2 702.6 L203.9 703.8 L204.6 704.9 L205.4 706.1 L206.1 707.4 L206.8 708.8 L207.6 710.0 L208.3 710.9 L209.0 711.4 L209.7 711.3 L210.5 710.8 L211.2 710.0 L211.9 708.9 L212.7 707.6 L213.4 706.2 L214.1 704.2 L214.9 701.4 L215.6 697.9 L216.3 694.0 L217.1 688.6 L217.8 681.4 L218.5 673.2 L219.2 664.8 L220.0 656.9 L220.7 649.4 L221.4 641.7 L222.2 633.9 L222.9 626.4 L223.6 619.3 L224.4 612.8 L225.1 607.0 L225.8 600.8 L226.5 594.7 L227.3 589.1 L228.0 584.7 L228.7 581.8 L229.5 581.0 L230.2 581.1 L230.9 581.4 L231.7 581.7 L232.4 582.1 L233.1 582.7 L233.8 584.4 L234.6 587.8 L235.3 592.2 L236.0 597.2 L236.8 602.3 L237.5 607.2 L238.2 612.6 L239.0 618.6 L239.7 624.8 L240.4 631.1 L241.1 637.3 L241.9 643.3 L242.6 649.7 L243.3 656.3 L244.1 662.8 L244.8 668.9 L245.5 674.3 L246.3 678.6 L247.0 682.3 L247.7 685.9 L248.4 688.7 L249.2 690.2 L249.9 689.9 L250.6 687.9 L251.4 684.7 L252.1 680.9 L252.8 676.8 L253.6 671.0 L254.3 663.6 L255.0 655.0 L255.8 646.0 L256.5 636.8 L257.2 628.2 L257.9 619.7 L258.7 611.0 L259.4 602.1 L260.1 593.1 L260.9 584.1 L261.6 575.2 L262.3 566.3 L263.1 557.1 L263.8 547.8 L264.5 538.7 L265.2 530.0 L266.0 522.0 L266.7 514.9 L267.4 507.9 L268.2 501.3 L268.9 496.0 L269.6 492.3 L270.4 489.4 L271.1 487.0 L271.8 485.9 L272.5 486.4 L273.3 488.2 L274.0 491.0 L274.7 494.3 L275.5 497.9 L276.2 502.9 L276.9 509.1 L277.7 516.0 L278.4 523.4 L279.1 530.9 L279.8 539.3 L280.6 548.5 L281.3 558.2 L282.0 568.0 L282.8 577.6 L283.5 586.6 L284.2 595.5 L285.0 604.4 L285.7 613.1 L286.4 621.6 L287.2 629.6 L287.9 637.0 L288.6 643.9 L289.3 650.8 L290.1 657.5 L290.8 663.6 L291.5 669.0 L292.3 673.4 L293.0 676.7 L293.7 679.6 L294.5 682.4 L295.2 684.8 L295.9 686.8 L296.6 688.0 L297.4 688.5 L298.1 687.7 L298.8 685.6 L299.6 682.6 L300.3 679.3 L301.0 675.2 L301.8 669.6 L302.5 662.7 L303.2 655.0 L303.9 646.9 L304.7 638.7 L305.4 630.8 L306.1 622.7 L306.9 614.2 L307.6 605.4 L308.3 596.4 L309.1 587.4 L309.8 578.4 L310.5 569.2 L311.2 559.3 L312.0 549.2 L312.7 539.3 L313.4 530.1 L314.2 521.9 L314.9 515.0 L315.6 508.5 L316.4 502.3 L317.1 496.6 L317.8 491.7 L318.6 487.8 L319.3 485.1 L320.0 483.1 L320.7 481.3 L321.5 479.8 L322.2 478.7 L322.9 478.1 L323.7 478.1 L324.4 478.3 L325.1 478.8 L325.9 479.5 L326.6 480.4 L327.3 482.3 L328.0 485.9 L328.8 490.4 L329.5 495.1 L330.2 499.7 L331.0 504.7 L331.7 510.1 L332.4 515.9 L333.2 522.0 L333.9 528.6 L334.6 535.8 L335.3 543.6 L336.1 551.6 L336.8 559.8 L337.5 567.9 L338.3 575.8 L339.0 583.7 L339.7 591.7 L340.5 599.7 L341.2 607.6 L341.9 615.3 L342.6 622.8 L343.4 630.1 L344.1 637.6 L344.8 644.9 L345.6 652.0 L346.3 658.5 L347.0 664.2 L347.8 669.3 L348.5 674.0 L349.2 678.3 L350.0 682.4 L350.7 686.0 L351.4 689.2 L352.1 691.9 L352.9 694.3 L353.6 696.6 L354.3 698.6 L355.1 700.5 L355.8 702.0 L356.5 703.2 L357.3 704.3 L358.0 705.3 L358.7 706.1 L359.4 706.5 L360.2 706.4 L360.9 705.9 L361.6 705.1 L362.4 704.0 L363.1 702.8 L363.8 700.5 L364.6 697.3 L365.3 693.5 L366.0 689.3 L366.7 685.2 L367.5 681.3 L368.2 677.6 L368.9 673.8 L369.7 669.9 L370.4 666.0 L371.1 662.0 L371.9 658.1 L372.6 654.1 L373.3 650.0 L374.0 645.8 L374.8 641.7 L375.5 637.8 L376.2 634.1 L377.0 630.9 L377.7 627.8 L378.4 624.8 L379.2 621.9 L379.9 619.4 L380.6 617.1 L381.4 615.7 L382.1 613.5 L382.8 612.5 L383.5 610.8 L384.3 609.6 L385.0 609.6 L385.7 608.6 L386.5 606.0 L387.2 606.0 L387.9 605.1 L388.7 602.7 L389.4 602.7 L390.1 601.1 L390.8 600.9 L391.6 599.6 L392.3 599.4 L393.0 597.5 L393.8 596.4 L394.5 596.7 L395.2 596.7 L396.0 598.5 L396.7 602.0 L397.4 603.0 L398.1 605.2 L398.9 607.6 L399.6 609.9 L400.3 610.3 L401.1 612.8 L401.8 614.1 L402.5 615.5 L403.3 617.4 L404.0 618.7 L404.7 621.2 L405.4 622.2 L406.2 624.6 L406.9 625.5 L407.6 627.4 L408.4 630.7 L409.1 632.6 L409.8 634.6 L410.6 635.5 L411.3 639.0 L412.0 641.5 L412.7 645.1 L413.5 648.0 L414.2 651.6 L414.9 655.1 L415.7 658.2 L416.4 662.1 L417.1 665.6 L417.9 670.2 L418.6 673.8 L419.3 677.9 L420.1 681.1 L420.8 685.0 L421.5 689.0 L422.2 690.7 L423.0 693.3 L423.7 696.1 L424.4 699.3 L425.2 701.6 L425.9 705.0 L426.6 706.3 L427.4 709.1 L428.1 711.7 L428.8 714.1 L429.5 714.3 L430.3 715.6 L431.0 718.8 L431.7 718.9 L432.5 720.8 L433.2 722.4 L433.9 723.0 L434.7 723.0 L435.4 723.6 L436.1 726.0 L436.8 725.7 L437.6 727.3 L438.3 726.6 L439.0 727.7 L439.8 726.9 L440.5 726.7 L441.2 727.5 L442.0 726.4 L442.7 727.4 L443.4 727.6 L444.1 726.3 L444.9 727.0 L445.6 726.4 L446.3 725.7 L447.1 724.9 L447.8 725.4 L448.5 725.1 L449.3 723.1 L450.0 723.6 L450.7 721.9 L451.5 721.5 L452.2 721.9 L452.9 721.2 L453.6 720.5 L454.4 719.8 L455.1 719.3 L455.8 718.8 L456.6 718.1 L457.3 716.9 L458.0 717.1 L458.8 716.7 L459.5 715.7 L460.2 716.1 L460.9 715.6 L461.7 713.9 L462.4 714.4 L463.1 713.9 L463.9 714.6 L464.6 713.5 L465.3 712.9 L466.1 713.7 L466.8 712.4 L467.5 712.2 L468.2 713.1 L469.0 711.9 L469.7 712.0 L470.4 711.5 L471.2 711.9 L471.9 711.2 L472.6 711.0 L473.4 712.2 L474.1 712.0 L474.8 710.7 L475.5 710.1 L476.3 711.3 L477.0 710.8 L477.7 710.4 L478.5 710.8 L479.2 710.6" fill="none" stroke="#0a0a0a" stroke-width="2.6" stroke-linejoin="round" clip-path="url(#clipC)"/>
<rect x="150.6" y="464.0" width="328.6" height="274.3" fill="none" stroke="#0a0a0a" stroke-width="2.1"/>
<path d="M150.6 738.3 v-5 M150.6 464.0 v5" stroke="#111" stroke-width="1"/>
<text x="150.6" y="758.3" font-size="14.6" class="dv" text-anchor="middle" fill="#111">400</text>
<path d="M223.6 738.3 v-5 M223.6 464.0 v5" stroke="#111" stroke-width="1"/>
<text x="223.6" y="758.3" font-size="14.6" class="dv" text-anchor="middle" fill="#111">500</text>
<path d="M296.6 738.3 v-5 M296.6 464.0 v5" stroke="#111" stroke-width="1"/>
<text x="296.6" y="758.3" font-size="14.6" class="dv" text-anchor="middle" fill="#111">600</text>
<path d="M369.7 738.3 v-5 M369.7 464.0 v5" stroke="#111" stroke-width="1"/>
<text x="369.7" y="758.3" font-size="14.6" class="dv" text-anchor="middle" fill="#111">700</text>
<path d="M442.7 738.3 v-5 M442.7 464.0 v5" stroke="#111" stroke-width="1"/>
<text x="442.7" y="758.3" font-size="14.6" class="dv" text-anchor="middle" fill="#111">800</text>
<path d="M150.6 738.3 h5 M479.2 738.3 h-5" stroke="#111" stroke-width="1"/>
<text x="147.6" y="743.9" font-size="14.6" class="dv" text-anchor="end" fill="#111">0.0</text>
<path d="M150.6 686.1 h5 M479.2 686.1 h-5" stroke="#111" stroke-width="1"/>
<text x="147.6" y="691.7" font-size="14.6" class="dv" text-anchor="end" fill="#111">0.2</text>
<path d="M150.6 634.0 h5 M479.2 634.0 h-5" stroke="#111" stroke-width="1"/>
<text x="147.6" y="639.6" font-size="14.6" class="dv" text-anchor="end" fill="#111">0.4</text>
<path d="M150.6 581.8 h5 M479.2 581.8 h-5" stroke="#111" stroke-width="1"/>
<text x="147.6" y="587.4" font-size="14.6" class="dv" text-anchor="end" fill="#111">0.6</text>
<path d="M150.6 529.7 h5 M479.2 529.7 h-5" stroke="#111" stroke-width="1"/>
<text x="147.6" y="535.3" font-size="14.6" class="dv" text-anchor="end" fill="#111">0.8</text>
<path d="M150.6 477.5 h5 M479.2 477.5 h-5" stroke="#111" stroke-width="1"/>
<text x="147.6" y="483.1" font-size="14.6" class="dv" text-anchor="end" fill="#111">1.0</text>
<text x="314.6" y="781" font-size="15.6" class="dv" text-anchor="middle" fill="#111">Wavelength (nm)</text>
<text transform="translate(114.5 600.6) rotate(-90)" font-size="15.6" class="dv" text-anchor="middle" fill="#111">Intensity (a.u.)</text>
<!-- part_d -->
<text x="510" y="446" font-size="24" class="ser">(d)</text>
<defs>
<clipPath id="leafL"><path d="M592.70 507.30 C591.45 507.75 587.30 508.88 585.22 510.00 C583.15 511.12 581.82 512.33 580.25 514.00 C578.68 515.67 577.28 517.33 575.80 520.00 C574.32 522.67 572.84 525.83 571.37 530.00 C569.90 534.17 568.20 540.00 566.98 545.00 C565.77 550.00 564.94 554.17 564.10 560.00 C563.26 565.83 562.40 574.17 561.95 580.00 C561.49 585.83 561.37 590.00 561.36 595.00 C561.35 600.00 561.50 604.17 561.87 610.00 C562.25 615.83 562.86 623.33 563.62 630.00 C564.39 636.67 565.46 643.33 566.48 650.00 C567.49 656.67 568.54 663.17 569.73 670.00 C570.91 676.83 572.22 684.33 573.58 691.00 C574.95 697.67 576.40 703.50 577.93 710.00 C579.46 716.50 581.08 723.33 582.78 730.00 C584.48 736.67 586.55 744.17 588.13 750.00 C589.71 755.83 591.15 761.23 592.24 765.00 C593.34 768.77 594.29 771.33 594.70 772.60 L594.70 772.60 C595.09 771.33 596.00 768.77 597.04 765.00 C598.08 761.23 599.44 755.83 600.93 750.00 C602.42 744.17 604.38 736.67 605.98 730.00 C607.58 723.33 609.09 716.50 610.53 710.00 C611.96 703.50 613.32 697.67 614.58 691.00 C615.85 684.33 617.04 676.83 618.13 670.00 C619.21 663.17 620.16 656.67 621.08 650.00 C621.99 643.33 622.96 636.67 623.62 630.00 C624.29 623.33 624.78 615.83 625.07 610.00 C625.36 604.17 625.45 600.00 625.36 595.00 C625.27 590.00 625.09 585.83 624.55 580.00 C624.00 574.17 623.02 565.83 622.10 560.00 C621.17 554.17 620.27 550.00 618.98 545.00 C617.70 540.00 615.90 534.17 614.37 530.00 C612.84 525.83 611.32 522.67 609.80 520.00 C608.28 517.33 606.85 515.67 605.25 514.00 C603.65 512.33 602.31 511.12 600.22 510.00 C598.13 508.88 593.95 507.75 592.70 507.30Z"/></clipPath>
<clipPath id="leafR"><path d="M676.70 507.30 C675.45 507.75 671.30 508.88 669.22 510.00 C667.15 511.12 665.82 512.33 664.25 514.00 C662.68 515.67 661.28 517.33 659.80 520.00 C658.32 522.67 656.84 525.83 655.37 530.00 C653.90 534.17 652.20 540.00 650.98 545.00 C649.77 550.00 648.94 554.17 648.10 560.00 C647.26 565.83 646.40 574.17 645.95 580.00 C645.49 585.83 645.37 590.00 645.36 595.00 C645.35 600.00 645.50 604.17 645.87 610.00 C646.25 615.83 646.86 623.33 647.62 630.00 C648.39 636.67 649.46 643.33 650.48 650.00 C651.49 656.67 652.54 663.17 653.73 670.00 C654.91 676.83 656.22 684.33 657.58 691.00 C658.95 697.67 660.40 703.50 661.93 710.00 C663.46 716.50 665.08 723.33 666.78 730.00 C668.48 736.67 670.55 744.17 672.13 750.00 C673.71 755.83 675.15 761.23 676.24 765.00 C677.34 768.77 678.29 771.33 678.70 772.60 L678.70 772.60 C679.09 771.33 680.00 768.77 681.04 765.00 C682.08 761.23 683.44 755.83 684.93 750.00 C686.42 744.17 688.38 736.67 689.98 730.00 C691.58 723.33 693.09 716.50 694.53 710.00 C695.96 703.50 697.32 697.67 698.58 691.00 C699.85 684.33 701.04 676.83 702.13 670.00 C703.21 663.17 704.16 656.67 705.08 650.00 C705.99 643.33 706.96 636.67 707.62 630.00 C708.29 623.33 708.78 615.83 709.07 610.00 C709.36 604.17 709.45 600.00 709.36 595.00 C709.27 590.00 709.09 585.83 708.55 580.00 C708.00 574.17 707.02 565.83 706.10 560.00 C705.17 554.17 704.27 550.00 702.98 545.00 C701.70 540.00 699.90 534.17 698.37 530.00 C696.84 525.83 695.32 522.67 693.80 520.00 C692.28 517.33 690.85 515.67 689.25 514.00 C687.65 512.33 686.31 511.12 684.22 510.00 C682.13 508.88 677.95 507.75 676.70 507.30Z"/></clipPath>
<clipPath id="boxL"><rect x="554.8" y="449.4" width="76.3" height="339.3"/></clipPath>
<clipPath id="boxR"><rect x="639.3" y="449.4" width="75.9" height="339.3"/></clipPath>
<linearGradient id="jet" x1="0" y1="1" x2="0" y2="0">
<stop offset="0" stop-color="#283480"/>
<stop offset="0.12" stop-color="#2848a8"/>
<stop offset="0.25" stop-color="#2868c8"/>
<stop offset="0.34" stop-color="#2890d8"/>
<stop offset="0.41" stop-color="#35b8c8"/>
<stop offset="0.49" stop-color="#5ccc80"/>
<stop offset="0.57" stop-color="#b0d840"/>
<stop offset="0.63" stop-color="#e8dc2a"/>
<stop offset="0.7" stop-color="#f59a22"/>
<stop offset="0.8" stop-color="#ee4a22"/>
<stop offset="0.92" stop-color="#c82020"/>
<stop offset="1" stop-color="#7a1a20"/>
</linearGradient>
<radialGradient id="heatO" gradientUnits="userSpaceOnUse" cx="0" cy="0" r="1">
<stop offset="0" stop-color="#3fd6d6" stop-opacity="1"/>
<stop offset="0.42" stop-color="#33cbe4" stop-opacity="1"/>
<stop offset="0.58" stop-color="#25aeea" stop-opacity="0.95"/>
<stop offset="0.76" stop-color="#2288e2" stop-opacity="0.7"/>
<stop offset="1" stop-color="#2a62cc" stop-opacity="0"/>
</radialGradient>
<radialGradient id="heatI" gradientUnits="userSpaceOnUse" cx="0" cy="0" r="1">
<stop offset="0" stop-color="#8a1a1a" stop-opacity="1"/>
<stop offset="0.25" stop-color="#a81c1b" stop-opacity="1"/>
<stop offset="0.42" stop-color="#d8281e" stop-opacity="1"/>
<stop offset="0.52" stop-color="#ee5a22" stop-opacity="1"/>
<stop offset="0.6" stop-color="#f7a52a" stop-opacity="1"/>
<stop offset="0.67" stop-color="#f0e038" stop-opacity="1"/>
<stop offset="0.76" stop-color="#a6e06a" stop-opacity="1"/>
<stop offset="0.86" stop-color="#4fd6c8" stop-opacity="0.9"/>
<stop offset="1" stop-color="#35c8e0" stop-opacity="0"/>
</radialGradient>
<linearGradient id="blueBg" x1="0" y1="0" x2="0" y2="1"><stop offset="0" stop-color="#2a62cc"/><stop offset="0.55" stop-color="#2a5ccb"/><stop offset="1" stop-color="#2a45b8"/></linearGradient>
<filter id="blurD" filterUnits="userSpaceOnUse" x="540" y="430" width="200" height="380"><feGaussianBlur stdDeviation="0.4"/></filter>
<filter id="blurD3" filterUnits="userSpaceOnUse" x="500" y="430" width="300" height="400"><feGaussianBlur stdDeviation="4"/></filter>
<filter id="blurD2a" filterUnits="userSpaceOnUse" x="540" y="430" width="200" height="380"><feGaussianBlur stdDeviation="0.55"/></filter>
<filter id="blurD2b" filterUnits="userSpaceOnUse" x="540" y="430" width="200" height="380"><feGaussianBlur stdDeviation="0.95"/></filter>
<radialGradient id="grayBg" gradientUnits="userSpaceOnUse" cx="593.5" cy="640" r="140" gradientTransform="translate(593.5 640) scale(0.3 1) translate(-593.5 -640)"><stop offset="0" stop-color="#bdbdbd"/><stop offset="0.6" stop-color="#a6a6a6"/><stop offset="1" stop-color="#8a8a8a"/></radialGradient>
<filter id="blurD2" filterUnits="userSpaceOnUse" x="540" y="430" width="200" height="380"><feGaussianBlur stdDeviation="1.6"/></filter>
</defs>
<rect x="554.8" y="449.4" width="76.3" height="339.3" fill="#0b0807"/>
<rect x="639.3" y="449.4" width="75.9" height="339.3" fill="#0b0807"/>
<g clip-path="url(#leafL)">
<rect x="554.8" y="500" width="80" height="280" fill="url(#grayBg)"/>
<g filter="url(#blurD)">
<path d="M592.52 533.61 A0.88 8.21 0 1 0 594.28 533.61 A0.88 8.21 0 1 0 592.52 533.61 Z M592.69 533.79 A0.71 7.19 0 1 0 594.11 533.79 A0.71 7.19 0 1 0 592.69 533.79 Z" fill="#0c0c0c" fill-rule="evenodd" opacity="0.45"/>
<path d="M592.11 534.73 A1.29 9.33 0 1 0 594.69 534.73 A1.29 9.33 0 1 0 592.11 534.73 Z M592.28 534.89 A1.12 8.29 0 1 0 594.52 534.89 A1.12 8.29 0 1 0 592.28 534.89 Z" fill="#0c0c0c" fill-rule="evenodd" opacity="0.59"/>
<path d="M591.59 535.93 A1.81 10.53 0 1 0 595.21 535.93 A1.81 10.53 0 1 0 591.59 535.93 Z M591.79 536.07 A1.60 9.47 0 1 0 595.00 536.07 A1.60 9.47 0 1 0 591.79 536.07 Z" fill="#0c0c0c" fill-rule="evenodd" opacity="0.73"/>
<path d="M590.97 537.14 A2.43 11.74 0 1 0 595.83 537.14 A2.43 11.74 0 1 0 590.97 537.14 Z M591.21 537.27 A2.19 10.67 0 1 0 595.59 537.27 A2.19 10.67 0 1 0 591.21 537.27 Z" fill="#0c0c0c" fill-rule="evenodd" opacity="0.87"/>
<path d="M590.23 538.43 A3.17 13.03 0 1 0 596.57 538.43 A3.17 13.03 0 1 0 590.23 538.43 Z M590.53 538.51 A2.87 11.91 0 1 0 596.27 538.51 A2.87 11.91 0 1 0 590.53 538.51 Z" fill="#0c0c0c" fill-rule="evenodd" opacity="1.00"/>
<path d="M589.31 539.88 A4.09 14.49 0 1 0 597.49 539.88 A4.09 14.49 0 1 0 589.31 539.88 Z M589.67 539.92 A3.73 13.32 0 1 0 597.13 539.92 A3.73 13.32 0 1 0 589.67 539.92 Z" fill="#0c0c0c" fill-rule="evenodd" opacity="1.00"/>
<path d="M588.31 541.37 A5.09 15.97 0 1 0 598.49 541.37 A5.09 15.97 0 1 0 588.31 541.37 Z M588.69 541.41 A4.71 14.81 0 1 0 598.11 541.41 A4.71 14.81 0 1 0 588.69 541.41 Z" fill="#0c0c0c" fill-rule="evenodd" opacity="1.00"/>
<path d="M587.29 542.81 A6.11 17.41 0 1 0 599.51 542.81 A6.11 17.41 0 1 0 587.29 542.81 Z M587.69 542.83 A5.71 16.23 0 1 0 599.11 542.83 A5.71 16.23 0 1 0 587.69 542.83 Z" fill="#0c0c0c" fill-rule="evenodd" opacity="1.00"/>
<path d="M586.17 544.48 A7.23 19.08 0 1 0 600.63 544.48 A7.23 19.08 0 1 0 586.17 544.48 Z M586.61 544.44 A6.79 17.84 0 1 0 600.19 544.44 A6.79 17.84 0 1 0 586.61 544.44 Z" fill="#0c0c0c" fill-rule="evenodd" opacity="1.00"/>
<path d="M584.91 546.29 A8.48 20.89 0 1 0 601.88 546.29 A8.48 20.89 0 1 0 584.91 546.29 Z M585.43 546.17 A7.97 19.57 0 1 0 601.37 546.17 A7.97 19.57 0 1 0 585.43 546.17 Z" fill="#0c0c0c" fill-rule="evenodd" opacity="1.00"/>
<path d="M583.40 548.38 A10.00 22.98 0 1 0 603.40 548.38 A10.00 22.98 0 1 0 583.40 548.38 Z M583.99 548.16 A9.41 21.56 0 1 0 602.81 548.16 A9.41 21.56 0 1 0 583.99 548.16 Z" fill="#0c0c0c" fill-rule="evenodd" opacity="1.00" filter="url(#blurD2a)"/>
<path d="M581.74 550.67 A11.66 25.27 0 1 0 605.06 550.67 A11.66 25.27 0 1 0 581.74 550.67 Z M582.40 550.37 A11.00 23.77 0 1 0 604.40 550.37 A11.00 23.77 0 1 0 582.40 550.37 Z" fill="#0c0c0c" fill-rule="evenodd" opacity="1.00" filter="url(#blurD2a)"/>
<path d="M579.86 553.15 A13.54 27.75 0 1 0 606.94 553.15 A13.54 27.75 0 1 0 579.86 553.15 Z M580.56 552.78 A12.84 26.18 0 1 0 606.24 552.78 A12.84 26.18 0 1 0 580.56 552.78 Z" fill="#0c0c0c" fill-rule="evenodd" opacity="1.00" filter="url(#blurD2a)"/>
<path d="M577.85 556.01 A15.55 30.61 0 1 0 608.95 556.01 A15.55 30.61 0 1 0 577.85 556.01 Z M578.83 555.26 A14.57 28.66 0 1 0 607.97 555.26 A14.57 28.66 0 1 0 578.83 555.26 Z" fill="#0c0c0c" fill-rule="evenodd" opacity="1.00" filter="url(#blurD2a)"/>
<path d="M575.52 559.23 A17.88 33.83 0 1 0 611.28 559.23 A17.88 33.83 0 1 0 575.52 559.23 Z M576.65 558.14 A16.75 31.54 0 1 0 610.15 558.14 A16.75 31.54 0 1 0 576.65 558.14 Z" fill="#0c0c0c" fill-rule="evenodd" opacity="1.00" filter="url(#blurD2a)"/>
<path d="M573.00 563.75 A20.40 38.35 0 1 0 613.80 563.75 A20.40 38.35 0 1 0 573.00 563.75 Z M574.28 561.97 A19.12 35.37 0 1 0 612.52 561.97 A19.12 35.37 0 1 0 574.28 561.97 Z" fill="#0c0c0c" fill-rule="evenodd" opacity="1.00" filter="url(#blurD2b)"/>
<path d="M569.82 568.95 A23.58 45.65 0 1 0 616.98 568.95 A23.58 45.65 0 1 0 569.82 568.95 Z M571.50 566.35 A21.90 41.84 0 1 0 615.30 566.35 A21.90 41.84 0 1 0 571.50 566.35 Z" fill="#0c0c0c" fill-rule="evenodd" opacity="1.00" filter="url(#blurD2b)"/>
<path d="M566.03 575.39 A27.37 55.11 0 1 0 620.77 575.39 A27.37 55.11 0 1 0 566.03 575.39 Z M567.68 572.59 A25.72 51.11 0 1 0 619.12 572.59 A25.72 51.11 0 1 0 567.68 572.59 Z" fill="#0c0c0c" fill-rule="evenodd" opacity="1.00" filter="url(#blurD2b)"/>
<path d="M563.42 583.74 A29.98 67.36 0 1 0 623.38 583.74 A29.98 67.36 0 1 0 563.42 583.74 Z M564.57 580.94 A28.83 63.36 0 1 0 622.23 580.94 A28.83 63.36 0 1 0 564.57 580.94 Z" fill="#0c0c0c" fill-rule="evenodd" opacity="1.00" filter="url(#blurD2b)"/>
<path d="M561.54 596.00 A31.86 85.10 0 1 0 625.26 596.00 A31.86 85.10 0 1 0 561.54 596.00 Z M562.38 593.20 A31.02 81.10 0 1 0 624.42 593.20 A31.02 81.10 0 1 0 562.38 593.20 Z" fill="#0c0c0c" fill-rule="evenodd" opacity="1.00" filter="url(#blurD2b)"/>
</g>
<g filter="url(#blurD2)"><ellipse cx="587.3" cy="521" rx="5.5" ry="10" fill="#080808" transform="rotate(14 587.3 521)"/><ellipse cx="599.3" cy="521" rx="5.5" ry="10" fill="#080808" transform="rotate(-14 599.3 521)"/><ellipse cx="593.3" cy="513.5" rx="9" ry="5" fill="#080808"/></g>
<path d="M564 698 Q594.5 754 625 698" fill="none" stroke="#0a0a0a" stroke-width="15" filter="url(#blurD3)"/>
<rect x="556" y="745" width="78" height="40" fill="#2a2a2a" opacity="0.45" filter="url(#blurD3)"/>
</g>
<circle cx="594" cy="512.4" r="1.7" fill="#fff"/>
<g clip-path="url(#leafR)">
<rect x="639.3" y="500" width="80" height="280" fill="url(#blueBg)"/>
<g transform="translate(677 548) scale(46 132)"><circle cx="0" cy="0" r="1" fill="url(#heatO)"/></g>
<g transform="translate(677 541) scale(19.5 47)"><circle cx="0" cy="0" r="1" fill="url(#heatI)"/></g>
<g filter="url(#blurD2)"><ellipse cx="672.5" cy="519" rx="5.5" ry="9" fill="#0c0808"/><ellipse cx="681.5" cy="519" rx="5.5" ry="9" fill="#0c0808"/><ellipse cx="677" cy="513" rx="7" ry="6" fill="#0c0808"/></g>
</g>
<g clip-path="url(#boxL)">
<path d="M592.70 507.30 C591.45 507.75 587.30 508.88 585.22 510.00 C583.15 511.12 581.82 512.33 580.25 514.00 C578.68 515.67 577.28 517.33 575.80 520.00 C574.32 522.67 572.84 525.83 571.37 530.00 C569.90 534.17 568.20 540.00 566.98 545.00 C565.77 550.00 564.94 554.17 564.10 560.00 C563.26 565.83 562.40 574.17 561.95 580.00 C561.49 585.83 561.37 590.00 561.36 595.00 C561.35 600.00 561.50 604.17 561.87 610.00 C562.25 615.83 562.86 623.33 563.62 630.00 C564.39 636.67 565.46 643.33 566.48 650.00 C567.49 656.67 568.54 663.17 569.73 670.00 C570.91 676.83 572.22 684.33 573.58 691.00 C574.95 697.67 576.40 703.50 577.93 710.00 C579.46 716.50 581.08 723.33 582.78 730.00 C584.48 736.67 586.55 744.17 588.13 750.00 C589.71 755.83 591.15 761.23 592.24 765.00 C593.34 768.77 594.29 771.33 594.70 772.60 L594.70 772.60 C595.09 771.33 596.00 768.77 597.04 765.00 C598.08 761.23 599.44 755.83 600.93 750.00 C602.42 744.17 604.38 736.67 605.98 730.00 C607.58 723.33 609.09 716.50 610.53 710.00 C611.96 703.50 613.32 697.67 614.58 691.00 C615.85 684.33 617.04 676.83 618.13 670.00 C619.21 663.17 620.16 656.67 621.08 650.00 C621.99 643.33 622.96 636.67 623.62 630.00 C624.29 623.33 624.78 615.83 625.07 610.00 C625.36 604.17 625.45 600.00 625.36 595.00 C625.27 590.00 625.09 585.83 624.55 580.00 C624.00 574.17 623.02 565.83 622.10 560.00 C621.17 554.17 620.27 550.00 618.98 545.00 C617.70 540.00 615.90 534.17 614.37 530.00 C612.84 525.83 611.32 522.67 609.80 520.00 C608.28 517.33 606.85 515.67 605.25 514.00 C603.65 512.33 602.31 511.12 600.22 510.00 C598.13 508.88 593.95 507.75 592.70 507.30Z" fill="none" stroke="#dadada" stroke-width="1.1"/>
<path d="M583.1 446 L592.7 508 L600.3 446" fill="none" stroke="#e4e4e4" stroke-width="1.5"/>
<path d="M594.8 772 V790" fill="none" stroke="#c8c8c8" stroke-width="2.4"/>
</g>
<g clip-path="url(#boxR)">
<path d="M676.70 507.30 C675.45 507.75 671.30 508.88 669.22 510.00 C667.15 511.12 665.82 512.33 664.25 514.00 C662.68 515.67 661.28 517.33 659.80 520.00 C658.32 522.67 656.84 525.83 655.37 530.00 C653.90 534.17 652.20 540.00 650.98 545.00 C649.77 550.00 648.94 554.17 648.10 560.00 C647.26 565.83 646.40 574.17 645.95 580.00 C645.49 585.83 645.37 590.00 645.36 595.00 C645.35 600.00 645.50 604.17 645.87 610.00 C646.25 615.83 646.86 623.33 647.62 630.00 C648.39 636.67 649.46 643.33 650.48 650.00 C651.49 656.67 652.54 663.17 653.73 670.00 C654.91 676.83 656.22 684.33 657.58 691.00 C658.95 697.67 660.40 703.50 661.93 710.00 C663.46 716.50 665.08 723.33 666.78 730.00 C668.48 736.67 670.55 744.17 672.13 750.00 C673.71 755.83 675.15 761.23 676.24 765.00 C677.34 768.77 678.29 771.33 678.70 772.60 L678.70 772.60 C679.09 771.33 680.00 768.77 681.04 765.00 C682.08 761.23 683.44 755.83 684.93 750.00 C686.42 744.17 688.38 736.67 689.98 730.00 C691.58 723.33 693.09 716.50 694.53 710.00 C695.96 703.50 697.32 697.67 698.58 691.00 C699.85 684.33 701.04 676.83 702.13 670.00 C703.21 663.17 704.16 656.67 705.08 650.00 C705.99 643.33 706.96 636.67 707.62 630.00 C708.29 623.33 708.78 615.83 709.07 610.00 C709.36 604.17 709.45 600.00 709.36 595.00 C709.27 590.00 709.09 585.83 708.55 580.00 C708.00 574.17 707.02 565.83 706.10 560.00 C705.17 554.17 704.27 550.00 702.98 545.00 C701.70 540.00 699.90 534.17 698.37 530.00 C696.84 525.83 695.32 522.67 693.80 520.00 C692.28 517.33 690.85 515.67 689.25 514.00 C687.65 512.33 686.31 511.12 684.22 510.00 C682.13 508.88 677.95 507.75 676.70 507.30Z" fill="none" stroke="#dadada" stroke-width="1.1"/>
<path d="M667.1 446 L676.7 508 L684.3 446" fill="none" stroke="#e4e4e4" stroke-width="1.5"/>
<path d="M678.8 772 V790" fill="none" stroke="#c8c8c8" stroke-width="2.4"/>
</g>
<rect x="726" y="450.8" width="10" height="335.4" fill="url(#jet)"/>
<line x1="733" y1="546.7" x2="736" y2="546.7" stroke="#333" stroke-width="1"/>
<text x="739.3" y="554.9" font-size="23" class="sans" fill="#111">3</text>
<line x1="733" y1="650.8" x2="736" y2="650.8" stroke="#333" stroke-width="1"/>
<text x="739.3" y="659.0" font-size="23" class="sans" fill="#111">2</text>
<line x1="733" y1="755.0" x2="736" y2="755.0" stroke="#333" stroke-width="1"/>
<text x="739.3" y="763.2" font-size="23" class="sans" fill="#111">1</text>
<line x1="733.8" y1="494.6" x2="736" y2="494.6" stroke="#333" stroke-width="0.8"/>
<line x1="733.8" y1="598.7" x2="736" y2="598.7" stroke="#333" stroke-width="0.8"/>
<line x1="733.8" y1="702.9" x2="736" y2="702.9" stroke="#333" stroke-width="0.8"/>
<text transform="translate(775 619) rotate(-90)" font-size="18.7" class="sans" text-anchor="middle" fill="#111">Thickness (μm)</text>
<!-- part_e -->
<text x="790" y="446" font-size="24" class="ser">(e)</text>
<defs><linearGradient id="gBar" x1="0" y1="1" x2="0" y2="0"><stop offset="0" stop-color="#e8405c"/><stop offset="0.5" stop-color="#ee7044"/><stop offset="1" stop-color="#f4a02e"/></linearGradient></defs>
<rect x="873.35" y="735.75" width="8.21" height="3.75" fill="url(#gBar)" stroke="#160c0c" stroke-width="1.5"/>
<rect x="881.56" y="725.30" width="8.21" height="14.20" fill="url(#gBar)" stroke="#160c0c" stroke-width="1.5"/>
<rect x="889.77" y="704.12" width="8.21" height="35.38" fill="url(#gBar)" stroke="#160c0c" stroke-width="1.5"/>
<rect x="897.98" y="671.70" width="8.21" height="67.80" fill="url(#gBar)" stroke="#160c0c" stroke-width="1.5"/>
<rect x="906.19" y="637.93" width="8.21" height="101.57" fill="url(#gBar)" stroke="#160c0c" stroke-width="1.5"/>
<rect x="914.40" y="606.04" width="8.21" height="133.46" fill="url(#gBar)" stroke="#160c0c" stroke-width="1.5"/>
<rect x="922.61" y="565.30" width="8.21" height="174.20" fill="url(#gBar)" stroke="#160c0c" stroke-width="1.5"/>
<rect x="930.82" y="557.26" width="8.21" height="182.24" fill="url(#gBar)" stroke="#160c0c" stroke-width="1.5"/>
<rect x="939.03" y="511.70" width="8.21" height="227.80" fill="url(#gBar)" stroke="#160c0c" stroke-width="1.5"/>
<rect x="947.24" y="499.10" width="8.21" height="240.40" fill="url(#gBar)" stroke="#160c0c" stroke-width="1.5"/>
<rect x="955.45" y="508.48" width="8.21" height="231.02" fill="url(#gBar)" stroke="#160c0c" stroke-width="1.5"/>
<rect x="963.66" y="518.67" width="8.21" height="220.83" fill="url(#gBar)" stroke="#160c0c" stroke-width="1.5"/>
<rect x="971.87" y="544.93" width="8.21" height="194.57" fill="url(#gBar)" stroke="#160c0c" stroke-width="1.5"/>
<rect x="980.08" y="543.06" width="8.21" height="196.44" fill="url(#gBar)" stroke="#160c0c" stroke-width="1.5"/>
<rect x="988.29" y="554.04" width="8.21" height="185.46" fill="url(#gBar)" stroke="#160c0c" stroke-width="1.5"/>
<rect x="996.50" y="558.06" width="8.21" height="181.44" fill="url(#gBar)" stroke="#160c0c" stroke-width="1.5"/>
<rect x="1004.71" y="565.30" width="8.21" height="174.20" fill="url(#gBar)" stroke="#160c0c" stroke-width="1.5"/>
<rect x="1012.92" y="590.49" width="8.21" height="149.01" fill="url(#gBar)" stroke="#160c0c" stroke-width="1.5"/>
<rect x="1021.13" y="585.13" width="8.21" height="154.37" fill="url(#gBar)" stroke="#160c0c" stroke-width="1.5"/>
<rect x="1029.34" y="597.46" width="8.21" height="142.04" fill="url(#gBar)" stroke="#160c0c" stroke-width="1.5"/>
<rect x="1037.55" y="605.50" width="8.21" height="134.00" fill="url(#gBar)" stroke="#160c0c" stroke-width="1.5"/>
<rect x="1045.76" y="608.72" width="8.21" height="130.78" fill="url(#gBar)" stroke="#160c0c" stroke-width="1.5"/>
<rect x="1053.97" y="618.90" width="8.21" height="120.60" fill="url(#gBar)" stroke="#160c0c" stroke-width="1.5"/>
<rect x="1062.18" y="604.16" width="8.21" height="135.34" fill="url(#gBar)" stroke="#160c0c" stroke-width="1.5"/>
<rect x="1070.39" y="608.18" width="8.21" height="131.32" fill="url(#gBar)" stroke="#160c0c" stroke-width="1.5"/>
<rect x="1078.60" y="614.88" width="8.21" height="124.62" fill="url(#gBar)" stroke="#160c0c" stroke-width="1.5"/>
<rect x="1086.81" y="618.90" width="8.21" height="120.60" fill="url(#gBar)" stroke="#160c0c" stroke-width="1.5"/>
<rect x="1095.02" y="623.72" width="8.21" height="115.78" fill="url(#gBar)" stroke="#160c0c" stroke-width="1.5"/>
<rect x="1103.23" y="652.13" width="8.21" height="87.37" fill="url(#gBar)" stroke="#160c0c" stroke-width="1.5"/>
<rect x="1111.44" y="668.48" width="8.21" height="71.02" fill="url(#gBar)" stroke="#160c0c" stroke-width="1.5"/>
<rect x="1119.65" y="692.06" width="8.21" height="47.44" fill="url(#gBar)" stroke="#160c0c" stroke-width="1.5"/>
<rect x="1127.86" y="706.27" width="8.21" height="33.23" fill="url(#gBar)" stroke="#160c0c" stroke-width="1.5"/>
<rect x="1136.07" y="709.48" width="8.21" height="30.02" fill="url(#gBar)" stroke="#160c0c" stroke-width="1.5"/>
<rect x="1144.28" y="715.92" width="8.21" height="23.58" fill="url(#gBar)" stroke="#160c0c" stroke-width="1.5"/>
<rect x="1152.49" y="722.08" width="8.21" height="17.42" fill="url(#gBar)" stroke="#160c0c" stroke-width="1.5"/>
<rect x="1160.70" y="733.34" width="8.21" height="6.16" fill="url(#gBar)" stroke="#160c0c" stroke-width="1.5"/>
<rect x="1168.91" y="737.89" width="8.21" height="1.61" fill="url(#gBar)" stroke="#160c0c" stroke-width="1.5"/>
<rect x="1177.12" y="738.70" width="8.21" height="0.80" fill="url(#gBar)" stroke="#160c0c" stroke-width="1.5"/>
<rect x="865.2" y="471.5" width="326.8" height="268.0" fill="none" stroke="#0a0a0a" stroke-width="2.6"/>
<path d="M882.0 739.5 v-4.5 M882.0 471.5 v4.5" stroke="#0a0a0a" stroke-width="2"/>
<text x="880.0" y="759.5" font-size="18" class="ser" text-anchor="middle">-1</text>
<path d="M963.5 739.5 v-4.5 M963.5 471.5 v4.5" stroke="#0a0a0a" stroke-width="2"/>
<text x="963.5" y="759.5" font-size="18" class="ser" text-anchor="middle">0</text>
<path d="M1045.0 739.5 v-4.5 M1045.0 471.5 v4.5" stroke="#0a0a0a" stroke-width="2"/>
<text x="1045.0" y="759.5" font-size="18" class="ser" text-anchor="middle">1</text>
<path d="M1126.5 739.5 v-4.5 M1126.5 471.5 v4.5" stroke="#0a0a0a" stroke-width="2"/>
<text x="1126.5" y="759.5" font-size="18" class="ser" text-anchor="middle">2</text>
<path d="M865.2 739.5 h4.5 M1192.0 739.5 h-4.5" stroke="#0a0a0a" stroke-width="2"/>
<text x="859.5" y="745.5" font-size="18" class="ser" text-anchor="end">0</text>
<path d="M865.2 605.5 h4.5 M1192.0 605.5 h-4.5" stroke="#0a0a0a" stroke-width="2"/>
<text x="859.5" y="610.8" font-size="18" class="ser" text-anchor="end">5</text>
<path d="M865.2 471.5 h4.5 M1192.0 471.5 h-4.5" stroke="#0a0a0a" stroke-width="2"/>
<text x="859.5" y="476.1" font-size="18" class="ser" text-anchor="end">10</text>
<path d="M922.8 739.5 v-3 M922.8 471.5 v3" stroke="#0a0a0a" stroke-width="1.8"/>
<path d="M1004.2 739.5 v-3 M1004.2 471.5 v3" stroke="#0a0a0a" stroke-width="1.8"/>
<path d="M1085.8 739.5 v-3 M1085.8 471.5 v3" stroke="#0a0a0a" stroke-width="1.8"/>
<path d="M1167.2 739.5 v-3 M1167.2 471.5 v3" stroke="#0a0a0a" stroke-width="1.8"/>
<path d="M865.2 672.5 h3 M1192.0 672.5 h-3" stroke="#0a0a0a" stroke-width="1.8"/>
<path d="M865.2 538.5 h3 M1192.0 538.5 h-3" stroke="#0a0a0a" stroke-width="1.8"/>
<text x="1028.4" y="780" font-size="20" class="ser" text-anchor="middle">Relative position (μm)</text>
<text transform="translate(831.5 606) rotate(-90)" font-size="20" class="ser" text-anchor="middle">Counts/10<tspan dy="-8" font-size="14.5">3</tspan></text>
<!-- part_cap -->
<text x="7" y="839.5" font-size="21" class="ser" fill="#1a1aff" font-weight="bold" xml:space="preserve">图 1</text>
<text id="l1" x="65.5" y="839.5" font-size="21" class="ser" fill="#0d0d0d" xml:space="preserve" style="word-spacing:2.328px">(a) 液膜靶制备照片; (b) 液膜靶表征系统的完整布局<tspan dy="-7.8" font-size="13.8" fill="#1a1aff">[16]</tspan><tspan dy="7.8" font-size="13.8">&#8203;</tspan>; (c) 典型反射光谱测量结果; (d) 干涉条纹及其厚度分布解缠结果<tspan dy="-7.8" font-size="13.8" fill="#1a1aff">[18]</tspan><tspan dy="7.8" font-size="13.8">&#8203;</tspan>; (e) LST法向</text>
<text id="l2" x="7" y="870.5" font-size="21" class="ser" fill="#0d0d0d" xml:space="preserve" style="word-spacing:0.000px">位置稳定性直方图<tspan dy="-7.8" font-size="13.8" fill="#1a1aff">[19]</tspan><tspan dy="7.8" font-size="13.8">&#8203;</tspan></text>
<text x="7" y="897.5" font-size="21" class="ser" fill="#1a1aff" font-weight="bold" xml:space="preserve">Figure 1</text>
<text id="l3" x="105.5" y="897.5" font-size="21" class="ser" fill="#0d0d0d" xml:space="preserve" style="word-spacing:1.814px">(a) Photo of LST preparation; (b) complete layout of LST characterization system<tspan dy="-7.8" font-size="13.8" fill="#1a1aff">[16]</tspan><tspan dy="7.8" font-size="13.8">&#8203;</tspan>; (c) typical reflectivity spectrum measurement results;</text>
<text id="l4" x="6.5" y="923" font-size="21" class="ser" fill="#0d0d0d" xml:space="preserve" style="word-spacing:2.901px">(d) unwrapped results of interference fringes and their thickness distribution<tspan dy="-7.8" font-size="13.8" fill="#1a1aff">[18]</tspan><tspan dy="7.8" font-size="13.8">&#8203;</tspan>; (e) normal position stability histogram of LST<tspan dy="-7.8" font-size="13.8" fill="#1a1aff">[19]</tspan><tspan dy="7.8" font-size="13.8">&#8203;</tspan></text>
</svg>
</body></html>
